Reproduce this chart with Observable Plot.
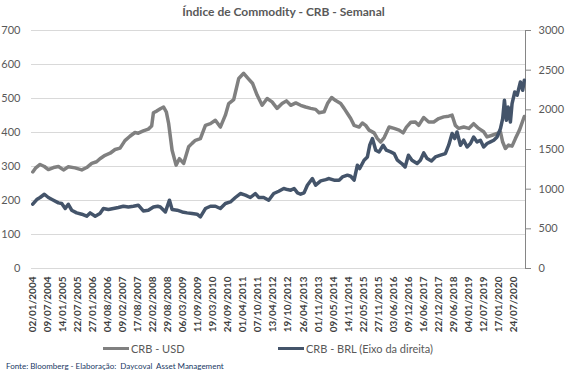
<!DOCTYPE html>
<html>
<head>
<meta charset="utf-8">
<script src="https://cdn.jsdelivr.net/npm/d3@7"></script>
<script src="https://cdn.jsdelivr.net/npm/@observablehq/plot@0.6"></script>
<style>
  body { margin:0; width:567px; height:379px; position:relative; background:#fff; font-family: Lato, "Open Sans", sans-serif; overflow:hidden; }
  #title { position:absolute; top:4px; left:0; width:567px; text-align:center; font-size:12px; color:#595959; font-weight:bold; }
  #chart { position:absolute; top:24px; left:0; }
  .leg { position:absolute; top:342px; font-size:11px; color:#595959; display:flex; align-items:center; white-space:nowrap; }
  .sw { display:inline-block; width:26px; height:3px; margin-right:2px; }
  #footer { position:absolute; top:361px; left:6px; font-size:8px; color:#203864; white-space:nowrap; }
  .xax text { font-weight: bold; }
</style>
</head>
<body>
<div id="title">Índice de Commodity - CRB - Semanal</div>
<div id="chart"></div>
<div class="leg" style="left:103px"><span class="sw" style="background:#808080"></span>CRB - USD</div>
<div class="leg" style="left:278px"><span class="sw" style="background:#44546A"></span>CRB - BRL (Eixo da direita)</div>
<div id="footer">Fonte: Bloomberg - Elaboração:&nbsp; Daycoval&nbsp; Asset Management</div>
<script>
const xTickLabels = ["02/01/2004","09/07/2004","14/01/2005","22/07/2005","27/01/2006","04/08/2006","09/02/2007","17/08/2007","22/02/2008","29/08/2008","06/03/2009","11/09/2009","19/03/2010","24/09/2010","01/04/2011","07/10/2011","13/04/2012","19/10/2012","26/04/2013","01/11/2013","09/05/2014","14/11/2014","22/05/2015","27/11/2015","03/06/2016","09/12/2016","16/06/2017","22/12/2017","29/06/2018","04/01/2019","12/07/2019","17/01/2020","24/07/2020"];
const yLeftTicks = [0,100,200,300,400,500,600,700];
const yRightTicks = [0,500,1000,1500,2000,2500,3000];

const usdDates = ["2004-01-02","2004-02-05","2004-04-03","2004-05-27","2004-07-16","2004-09-18","2004-11-20","2005-01-22","2005-03-24","2005-06-17","2005-09-09","2005-11-10","2006-01-12","2006-03-14","2006-04-26","2006-06-29","2006-08-31","2006-11-02","2007-01-04","2007-03-06","2007-05-08","2007-07-10","2007-08-21","2007-10-23","2007-12-25","2008-02-05","2008-02-27","2008-04-08","2008-05-24","2008-07-04","2008-08-08","2008-09-06","2008-10-19","2008-12-08","2009-01-19","2009-03-13","2009-05-15","2009-06-27","2009-08-08","2009-10-10","2009-12-12","2010-02-13","2010-04-16","2010-06-18","2010-08-20","2010-10-01","2010-12-03","2011-02-04","2011-04-07","2011-06-09","2011-07-29","2011-09-23","2011-11-25","2012-01-27","2012-03-29","2012-05-31","2012-08-02","2012-09-26","2012-11-19","2013-01-21","2013-03-23","2013-05-25","2013-07-27","2013-09-28","2013-11-10","2014-01-13","2014-02-24","2014-04-17","2014-06-07","2014-08-09","2014-09-21","2014-11-02","2014-12-13","2015-01-25","2015-03-28","2015-05-08","2015-06-19","2015-08-01","2015-10-03","2015-11-14","2015-12-25","2016-02-07","2016-04-09","2016-06-11","2016-08-13","2016-10-02","2016-11-13","2017-01-07","2017-03-05","2017-04-16","2017-06-18","2017-08-20","2017-10-22","2017-12-24","2018-02-25","2018-04-28","2018-06-10","2018-07-21","2018-09-01","2018-11-03","2019-01-06","2019-03-08","2019-05-10","2019-07-12","2019-08-24","2019-10-26","2019-12-28","2020-02-08","2020-03-07","2020-04-10","2020-05-21","2020-07-03","2020-08-14","2020-10-04","2020-12-04"];
const usdValues = [284,295,306,300,291,297,300,290,299,296,290,297,309,314,323,333,339,350,354,376,389,400,398,405,410,419,458,463,470,475,460,426,348,304,323,309,358,368,377,382,421,426,436,416,451,485,497,559,574,557,544,510,480,500,490,471,485,493,480,487,480,475,471,468,458,461,485,503,494,485,471,456,441,421,416,428,421,407,399,382,372,385,416,412,407,399,416,430,431,421,444,431,431,441,446,448,451,421,412,416,412,426,412,402,387,392,397,402,372,353,363,360,382,407,447];

const brlDates = ["2004-01-02","2004-02-21","2004-04-03","2004-05-27","2004-07-16","2004-09-18","2004-11-20","2004-12-31","2005-02-13","2005-03-24","2005-05-05","2005-07-07","2005-09-09","2005-11-10","2005-12-23","2006-02-25","2006-04-26","2006-06-08","2006-08-10","2006-10-12","2006-12-14","2007-02-15","2007-04-18","2007-06-20","2007-08-21","2007-10-23","2007-12-25","2008-02-27","2008-04-21","2008-05-24","2008-07-27","2008-09-16","2008-10-19","2008-12-21","2009-02-23","2009-04-25","2009-06-27","2009-08-29","2009-10-10","2009-12-12","2010-02-13","2010-04-16","2010-06-18","2010-08-20","2010-10-22","2010-12-24","2011-02-25","2011-04-28","2011-06-30","2011-09-01","2011-10-13","2011-12-15","2012-02-16","2012-04-19","2012-06-21","2012-08-23","2012-10-08","2012-11-19","2013-01-01","2013-02-12","2013-03-23","2013-05-05","2013-06-16","2013-08-18","2013-09-28","2013-12-01","2014-02-02","2014-03-16","2014-05-18","2014-07-20","2014-08-31","2014-11-02","2014-12-13","2015-01-25","2015-03-07","2015-04-05","2015-05-30","2015-07-11","2015-08-09","2015-09-12","2015-10-24","2015-12-05","2016-01-25","2016-03-06","2016-04-29","2016-06-11","2016-07-22","2016-09-15","2016-10-27","2016-12-08","2017-01-21","2017-03-27","2017-05-07","2017-06-18","2017-07-31","2017-09-23","2017-11-12","2018-01-15","2018-03-17","2018-04-28","2018-06-10","2018-07-12","2018-08-11","2018-09-23","2018-11-03","2018-12-16","2019-01-27","2019-03-08","2019-04-20","2019-06-01","2019-07-12","2019-08-24","2019-10-05","2019-11-16","2019-12-28","2020-02-08","2020-03-07","2020-03-29","2020-04-23","2020-05-14","2020-06-12","2020-07-03","2020-08-06","2020-09-05","2020-10-16","2020-11-14","2020-12-04"];
const brlValues = [810,869,895,936,895,861,827,819,756,810,735,701,684,659,701,659,693,756,743,756,769,785,776,785,798,726,735,776,785,776,713,861,743,735,713,701,693,684,650,756,785,785,756,819,839,895,945,924,895,945,895,895,861,945,974,1008,995,987,1008,953,936,953,1050,1134,1050,1104,1121,1134,1113,1113,1154,1176,1163,1113,1302,1260,1365,1406,1554,1638,1491,1469,1554,1491,1469,1449,1365,1323,1280,1428,1365,1323,1365,1457,1386,1356,1406,1428,1449,1554,1701,1638,1721,1554,1617,1532,1575,1658,1596,1617,1532,1575,1596,1617,1658,1764,1890,2121,1869,2036,1847,2079,2225,2184,2351,2247,2372];

const ratio = 700 / 3000;
const parseISO = d3.utcParse("%Y-%m-%d");
const parseBR = d3.utcParse("%d/%m/%Y");
const fmtBR = d3.utcFormat("%d/%m/%Y");
const usd = usdDates.map((d, i) => ({date: parseISO(d), value: usdValues[i]}));
const brl = brlDates.map((d, i) => ({date: parseISO(d), value: brlValues[i] * ratio}));
const xTicks = xTickLabels.map(parseBR);

const chart = Plot.plot({
  width: 567,
  height: 316,
  marginTop: 6,
  marginBottom: 72,
  marginLeft: 31,
  marginRight: 42,
  style: {fontFamily: "Lato, 'Open Sans', sans-serif", background: "transparent"},
  x: {type: "utc", domain: [parseISO("2003-12-17"), parseISO("2020-12-19")]},
  y: {domain: [0, 700]},
  marks: [
    Plot.gridY(yLeftTicks, {stroke: "#d9d9d9", strokeOpacity: 1}),
    Plot.axisY(yLeftTicks, {anchor: "left", tickSize: 0, tickPadding: 11, label: null, fontSize: 11, fill: "#595959"}),
    Plot.axisY(yRightTicks.map(v => v * ratio), {anchor: "right", tickSize: 5, tickPadding: 8, label: null, fontSize: 11, fill: "#595959", stroke: "#868686", tickFormat: d => String(Math.round(d / ratio))}),
    Plot.frame({anchor: "right", stroke: "#868686"}),
    Plot.axisX(xTicks, {anchor: "bottom", tickRotate: -90, tickSize: 0, tickPadding: 8, label: null, fontSize: 10, fill: "#404040", tickFormat: fmtBR, className: "xax"}),
    Plot.line(usd, {x: "date", y: "value", stroke: "#808080", strokeWidth: 3.5, strokeLinejoin: "round"}),
    Plot.line(brl, {x: "date", y: "value", stroke: "#44546A", strokeWidth: 3.5, strokeLinejoin: "round"})
  ]
});
document.getElementById("chart").appendChild(chart);
</script>
</body>
</html>
